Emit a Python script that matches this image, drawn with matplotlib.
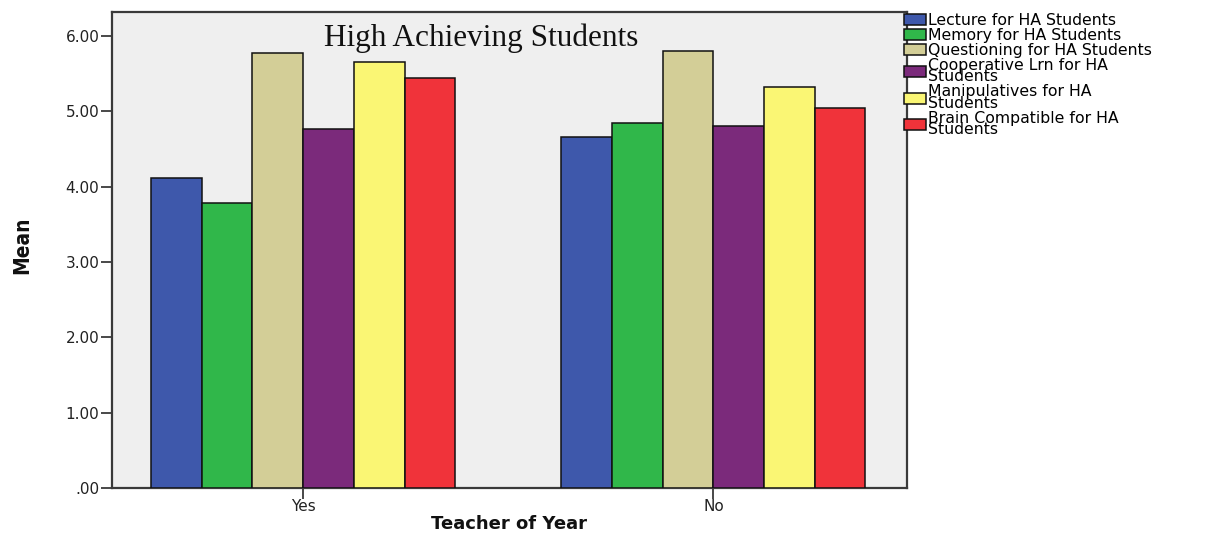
import matplotlib
matplotlib.use("Agg")
import matplotlib.pyplot as plt
import numpy as np
from matplotlib.ticker import FuncFormatter

# Mean ratings by teaching strategy, split by Teacher of the Year status
groups = ["Yes", "No"]
strategies = [
    "Lecture for HA Students",
    "Memory for HA Students",
    "Questioning for HA Students",
    "Cooperative Lrn for HA\nStudents",
    "Manipulatives for HA\nStudents",
    "Brain Compatible for HA\nStudents",
]
means_yes = [4.11, 3.78, 5.77, 4.77, 5.66, 5.44]
means_no = [4.66, 4.85, 5.80, 4.81, 5.33, 5.04]
colors = ["#3e58ab", "#30b74a", "#d3ce97", "#7b2a7b", "#faf674", "#f0333a"]
y_ticks = [0, 1, 2, 3, 4, 5, 6]

values = np.array([means_yes, means_no])

fig = plt.figure(figsize=(12.08, 5.34), dpi=100)
ax = fig.add_axes([112 / 1208, 46 / 534, 795 / 1208, 476 / 534])
ax.set_facecolor("#efefef")

x = np.arange(len(groups))
n = len(strategies)
width = 0.1236
handles = []
for i, (name, col) in enumerate(zip(strategies, colors)):
    offs = (i - (n - 1) / 2) * width
    b = ax.bar(x + offs, values[:, i], width=width, color=col,
               edgecolor="#111111", linewidth=1.1, label=name, zorder=3)
    handles.append(b)

ax.set_xlim(-0.466, 1.472)
ax.set_ylim(0, 6.32)
ax.set_xticks(x)
ax.set_xticklabels(groups)
ax.set_yticks(y_ticks)
ax.yaxis.set_major_formatter(
    FuncFormatter(lambda v, p: ".00" if v == 0 else f"{v:.2f}"))

for s in ax.spines.values():
    s.set_color("#3a3a3a")
    s.set_linewidth(1.6)

ax.tick_params(axis="both", direction="out", length=8, width=1.3,
               color="#3a3a3a", labelsize=11, labelcolor="#222222")
ax.tick_params(axis="y", pad=1)
ax.tick_params(axis="x", pad=0)
for lab in ax.get_xticklabels() + ax.get_yticklabels():
    lab.set_family("DejaVu Sans")

fig.text(509 / 1208, 1 - 524 / 534, "Teacher of Year", family="DejaVu Sans",
         fontweight="bold", fontsize=13, ha="center", va="center",
         color="#111111")
fig.text(22 / 1208, 1 - 245 / 534, "Mean", family="DejaVu Sans",
         fontstretch="condensed", fontweight="bold", fontsize=15,
         rotation=90, ha="center", va="center", color="#111111")

fig.text(481 / 1208, 1 - 38 / 534, "High Achieving Students",
         family="Liberation Serif", fontsize=22.5, ha="center", va="center",
         color="#111111")

leg = fig.legend(handles=handles, labels=strategies, loc="upper left",
                 bbox_to_anchor=(904 / 1208, 1 - 13 / 534), frameon=False,
                 prop={"family": "DejaVu Sans", "size": 11.3},
                 handlelength=1.4, handleheight=0.7, handletextpad=0.15,
                 labelspacing=0.0, borderpad=0, borderaxespad=0)
for t in leg.get_texts():
    t.set_linespacing(0.7)

fig.savefig("out.png", dpi=100)
